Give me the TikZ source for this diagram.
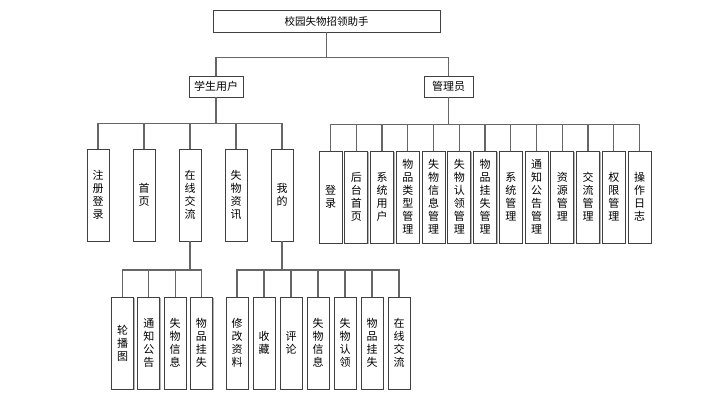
\documentclass[tikz,border=0pt]{standalone}
\usepackage{fontspec}
\newfontfamily\cjk{Noto Sans CJK SC}
\usetikzlibrary{positioning, shadows}

\begin{document}
\begin{tikzpicture}[x=1pt, y=1pt, node distance=2.75pt and 2.75pt]
\tikzstyle{rootbox} = [rectangle, minimum width=227pt, minimum height=22pt,
    draw=black!75, fill=white, line width=0.9pt, inner sep=0pt,
    font=\cjk\fontsize{10.5}{13}\selectfont,
    drop shadow={shadow xshift=1.2pt, shadow yshift=-1.2pt, fill=black!30, opacity=1}]
\tikzstyle{rolebox} = [rectangle, minimum height=21pt, inner sep=0pt,
    draw=black!75, fill=white, line width=0.9pt,
    font=\cjk\fontsize{11}{13}\selectfont,
    drop shadow={shadow xshift=1.2pt, shadow yshift=-1.2pt, fill=black!30, opacity=1}]
\tikzstyle{leaf} = [rectangle, align=center, anchor=north,
    minimum width=22pt, minimum height=92pt, inner sep=0pt, outer sep=0pt,
    draw=black!75, fill=white, line width=0.9pt,
    font=\cjk\fontsize{11}{13}\selectfont,
    drop shadow={shadow xshift=1.2pt, shadow yshift=-1.2pt, fill=black!30, opacity=1}]
\tikzstyle{link} = [black!60, line width=1.2pt]

\useasboundingbox (0,0) rectangle (704,-408);

\node (root) [rootbox] at (326.5,-21) {校园失物招领助手};
\node (stu) [rolebox, minimum width=54pt] at (216,-86.5) {学生用户};
\node (adm) [rolebox, minimum width=49pt] at (448.5,-86.5) {管理员};

% --- student menu ---
\node (reg) [leaf] at (98,-149) {注\\册\\登\\录};
\node (home) [leaf, right=24pt of reg] {首\\页};
\node (chat) [leaf, right=24pt of home] {在\\线\\交\\流};
\node (news) [leaf, right=24pt of chat] {失\\物\\资\\讯};
\node (mine) [leaf, right=24pt of news] {我\\的};

% --- admin menu ---
\node (alog) [leaf, minimum width=23pt] at (330.5,-151) {登\\录};
\node (aidx) [leaf, minimum width=23pt, right=of alog] {后\\台\\首\\页};
\node (auser) [leaf, minimum width=23pt, right=of aidx] {系\\统\\用\\户};
\node (atype) [leaf, minimum width=23pt, right=of auser] {物\\品\\类\\型\\管\\理};
\node (ainfo) [leaf, minimum width=23pt, right=of atype] {失\\物\\信\\息\\管\\理};
\node (aclaim) [leaf, minimum width=23pt, right=of ainfo] {失\\物\\认\\领\\管\\理};
\node (alost) [leaf, minimum width=23pt, right=of aclaim] {物\\品\\挂\\失\\管\\理};
\node (asys) [leaf, minimum width=23pt, right=of alost] {系\\统\\管\\理};
\node (anote) [leaf, minimum width=23pt, right=of asys] {通\\知\\公\\告\\管\\理};
\node (ares) [leaf, minimum width=23pt, right=of anote] {资\\源\\管\\理};
\node (achat) [leaf, minimum width=23pt, right=of ares] {交\\流\\管\\理};
\node (aperm) [leaf, minimum width=23pt, right=of achat] {权\\限\\管\\理};
\node (alogs) [leaf, minimum width=23pt, right=of aperm] {操\\作\\日\\志};

% --- under chat ---
\node (slide) [leaf] at (122.5,-297) {轮\\播\\图};
\node (cnote) [leaf, right=4.3pt of slide] {通\\知\\公\\告};
\node (cinfo) [leaf, right=4.3pt of cnote] {失\\物\\信\\息};
\node (clost) [leaf, right=4.3pt of cinfo] {物\\品\\挂\\失};

% --- under mine ---
\node (edit) [leaf] at (237,-297) {修\\改\\资\\料};
\node (fav) [leaf, right=5pt of edit] {收\\藏};
\node (cmt) [leaf, right=5pt of fav] {评\\论};
\node (minfo) [leaf, right=5pt of cmt] {失\\物\\信\\息};
\node (mclaim) [leaf, right=5pt of minfo] {失\\物\\认\\领};
\node (mlost) [leaf, right=5pt of mclaim] {物\\品\\挂\\失};
\node (mchat) [leaf, right=5pt of mlost] {在\\线\\交\\流};

\draw [link] (root.south) -- ++(0,-25) -| (stu.north);
\draw [link] (root.south) -- ++(0,-25) -| (adm.north);

\draw [link] (stu.south) -- ++(0,-26) -| (reg.north);
\draw [link] (stu.south) -- ++(0,-26) -| (home.north);
\draw [link] (stu.south) -- ++(0,-26) -| (chat.north);
\draw [link] (stu.south) -- ++(0,-26) -| (news.north);
\draw [link] (stu.south) -- ++(0,-26) -| (mine.north);

\draw [link] (adm.south) -- ++(0,-27) -| (alog.north);
\draw [link] (adm.south) -- ++(0,-27) -| (aidx.north);
\draw [link] (adm.south) -- ++(0,-27) -| (auser.north);
\draw [link] (adm.south) -- ++(0,-27) -| (atype.north);
\draw [link] (adm.south) -- ++(0,-27) -| (ainfo.north);
\draw [link] (adm.south) -- ++(0,-27) -| (aclaim.north);
\draw [link] (adm.south) -- ++(0,-27) -| (alost.north);
\draw [link] (adm.south) -- ++(0,-27) -| (asys.north);
\draw [link] (adm.south) -- ++(0,-27) -| (anote.north);
\draw [link] (adm.south) -- ++(0,-27) -| (ares.north);
\draw [link] (adm.south) -- ++(0,-27) -| (achat.north);
\draw [link] (adm.south) -- ++(0,-27) -| (aperm.north);
\draw [link] (adm.south) -- ++(0,-27) -| (alogs.north);

\draw [link] (chat.south) -- ++(0,-29) -| (slide.north);
\draw [link] (chat.south) -- ++(0,-29) -| (cnote.north);
\draw [link] (chat.south) -- ++(0,-29) -| (cinfo.north);
\draw [link] (chat.south) -- ++(0,-29) -| (clost.north);

\draw [link] (mine.south) -- ++(0,-29) -| (edit.north);
\draw [link] (mine.south) -- ++(0,-29) -| (fav.north);
\draw [link] (mine.south) -- ++(0,-29) -| (cmt.north);
\draw [link] (mine.south) -- ++(0,-29) -| (minfo.north);
\draw [link] (mine.south) -- ++(0,-29) -| (mclaim.north);
\draw [link] (mine.south) -- ++(0,-29) -| (mlost.north);
\draw [link] (mine.south) -- ++(0,-29) -| (mchat.north);
\end{tikzpicture}
\end{document}
